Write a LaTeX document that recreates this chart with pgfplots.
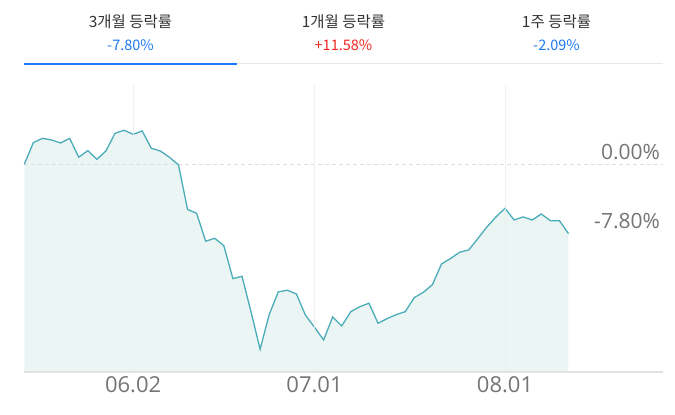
\documentclass[border=0pt]{standalone}
\usepackage{pgfplots}
\pgfplotsset{compat=1.18}
\usepgfplotslibrary{fillbetween}
\usepackage{fontspec}
\setmainfont{Open Sans}
\newfontfamily\kr{Noto Sans CJK KR}
\definecolor{linec}{HTML}{4AACB8}
\definecolor{fillc}{HTML}{EBF6F4}
\definecolor{gridc}{HTML}{EEEEEE}
\definecolor{axc}{HTML}{E2E2E2}
\definecolor{dashc}{HTML}{DDDDDD}
\definecolor{lbl}{HTML}{757575}
\definecolor{hdr}{HTML}{333333}
\definecolor{downblue}{HTML}{1E78F0}
\definecolor{upred}{HTML}{F0281E}
\definecolor{tabblue}{HTML}{1A7AF8}
\definecolor{tabgray}{HTML}{E8E8E8}
\pgfplotstableread{
i v
0 0.00
1 2.43
2 2.92
3 2.73
4 2.39
5 2.92
6 0.79
7 1.53
8 0.56
9 1.49
10 3.48
11 3.82
12 3.37
13 3.74
14 1.80
15 1.49
16 0.79
17 -0.08
18 -5.08
19 -5.51
20 -8.65
21 -8.32
22 -9.15
23 -12.86
24 -12.59
25 -16.60
26 -20.79
27 -16.90
28 -14.35
29 -14.16
30 -14.58
31 -16.97
32 -18.32
33 -19.75
34 -17.16
35 -18.17
36 -16.57
37 -16.01
38 -15.62
39 -17.87
40 -17.35
41 -16.90
42 -16.57
43 -14.99
44 -14.39
45 -13.53
46 -11.21
47 -10.59
48 -9.89
49 -9.63
50 -8.36
51 -7.05
52 -5.92
53 -4.95
54 -6.26
55 -5.92
56 -6.26
57 -5.59
58 -6.34
59 -6.34
60 -7.80
}\series
\begin{document}
\begin{tikzpicture}
\draw[white, line width=0pt] (0pt,0pt) rectangle (675pt,415pt);
\begin{axis}[
  at={(24.3pt,43pt)}, anchor=south west, scale only axis,
  width=638.7pt, height=287pt,
  xmin=0, xmax=70.42, ymin=-23.35, ymax=8.91,
  clip=false,
  axis on top,
  axis line style={draw=none},
  major tick style={draw=none},
  ytick=\empty,
  xtick={12,32,53},
  xticklabels={06.02,07.01,08.01},
  xticklabel style={anchor=center, yshift=-13pt, text=lbl, font=\fontsize{22}{22}\selectfont},
  xmajorgrids,
  grid style={gridc, line width=1pt, opacity=0.8},
]
\addplot[name path=A, draw=none, forget plot] table[x=i, y=v] {\series};
\addplot[name path=B, draw=none, forget plot] coordinates {(0,-23.35) (60,-23.35)};
\addplot[fill=fillc, draw=none, forget plot] fill between[of=A and B];
\draw[dashc, line width=1pt, dash pattern=on 4pt off 3pt] (axis cs:0,0) -- (axis cs:70.42,0);
\addplot[linec, line width=1.3pt, mark=none] table[x=i, y=v] {\series};
\draw[axc, line width=2pt] (axis cs:0,-23.35) -- (axis cs:70.42,-23.35);
\node[anchor=east, text=lbl, font=\fontsize{21}{21}\selectfont, inner sep=0pt] at (axis cs:70.1,1.38) {0.00\%};
\node[anchor=east, text=lbl, font=\fontsize{21}{21}\selectfont, inner sep=0pt] at (axis cs:70.1,-6.37) {-7.80\%};
\end{axis}
\node[text=hdr, font=\kr\fontsize{15.5}{15.5}\selectfont] at (130.5pt,393pt) {3개월 등락률};
\node[text=hdr, font=\kr\fontsize{15.5}{15.5}\selectfont] at (343.5pt,393pt) {1개월 등락률};
\node[text=hdr, font=\kr\fontsize{15.5}{15.5}\selectfont] at (556.5pt,393pt) {1주 등락률};
\node[text=downblue, font=\kr\fontsize{14.5}{14.5}\selectfont] at (130.5pt,370pt) {-7.80\%};
\node[text=upred, font=\kr\fontsize{14.5}{14.5}\selectfont] at (343.5pt,370pt) {+11.58\%};
\node[text=downblue, font=\kr\fontsize{14.5}{14.5}\selectfont] at (556.5pt,370pt) {-2.09\%};
\draw[tabgray, line width=1pt] (237pt,351pt) -- (663pt,351pt);
\draw[tabblue, line width=1.5pt] (24pt,351pt) -- (237pt,351pt);
\end{tikzpicture}
\end{document}
